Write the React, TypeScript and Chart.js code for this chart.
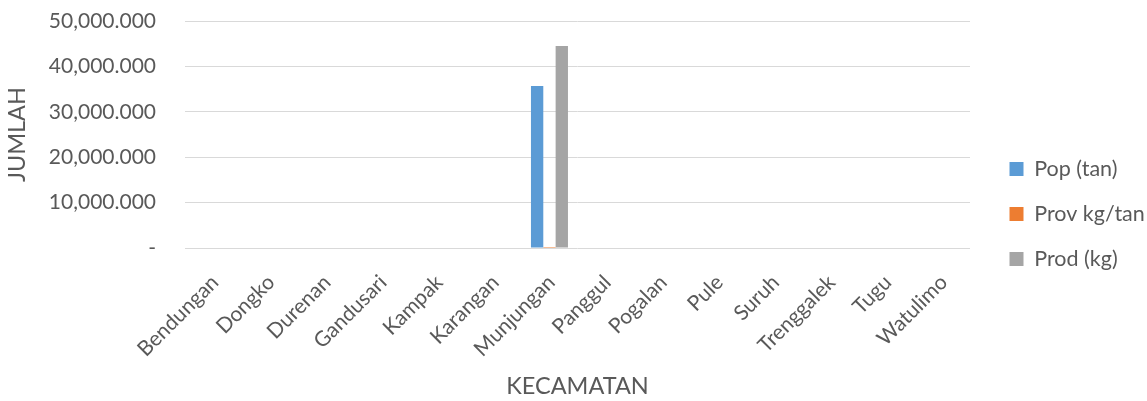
import React, { useEffect, useRef } from "react";
import { Chart, registerables } from "chart.js";

Chart.register(...registerables);

const categories = [
  "Bendungan", "Dongko", "Durenan", "Gandusari", "Kampak", "Karangan", "Munjungan",
  "Panggul", "Pogalan", "Pule", "Suruh", "Trenggalek", "Tugu", "Watulimo",
];
const popTan = [0, 0, 0, 0, 0, 0, 35700000, 0, 0, 0, 0, 0, 0, 0];
const provKgTan = [0, 0, 0, 0, 0, 0, 1.25, 0, 0, 0, 0, 0, 0, 0];
const prodKg = [0, 0, 0, 0, 0, 0, 44500000, 0, 0, 0, 0, 0, 0, 0];
const yTicks = [0, 10000000, 20000000, 30000000, 40000000, 50000000];

const TEXT = "#595959";
const FONT = "Lato";

function fmt(v: number): string {
  if (v === 0) return "-";
  const k = Math.round(v / 1000);
  return k.toLocaleString("en-US") + ".000";
}

const legendPlacer = {
  id: "legendPlacer",
  beforeLayout(chart: any) {
    const lg = chart.legend;
    if (lg && !lg._patched) {
      const orig = lg.fit;
      lg.fit = function () {
        orig.call(this);
        this.width = 177;
      };
      lg._patched = true;
    }
  },
  afterLayout(chart: any) {
    const lg = chart.legend;
    if (!lg) return;
    lg.left = 986;
    lg.right = 986 + 177;
    lg.top = 134;
    lg.bottom = 294;
  },
};

export default function App() {
  const ref = useRef<HTMLCanvasElement>(null);
  useEffect(() => {
    if (!ref.current) return;
    const chart = new Chart(ref.current, {
      type: "bar",
      data: {
        labels: categories,
        datasets: [
          { label: "Pop (tan)", data: popTan, backgroundColor: "#5b9bd5" },
          { label: "Prov kg/tan", data: provKgTan, backgroundColor: "#ed7d31" },
          { label: "Prod (kg)", data: prodKg, backgroundColor: "#a5a5a5" },
        ],
      },
      plugins: [legendPlacer],
      options: {
        animation: false,
        responsive: true,
        maintainAspectRatio: false,
        layout: { padding: { top: 21, left: 0, right: 0, bottom: 0 } },
        datasets: { bar: { categoryPercentage: 0.66, barPercentage: 1 } },
        plugins: {
          legend: {
            position: "right",
            labels: {
              color: TEXT,
              font: { family: FONT, size: 21.5 },
              boxWidth: 14,
              boxHeight: 14,
              padding: 23.5,
            },
          },
          tooltip: { enabled: false },
        },
        scales: {
          x: {
            grid: { display: false },
            border: { display: false },
            ticks: {
              color: TEXT,
              font: { family: FONT, size: 21 },
              minRotation: 45,
              maxRotation: 45,
              autoSkip: false,
              padding: 14,
              labelOffset: 2,
            },
            title: {
              display: true,
              text: "KECAMATAN",
              color: TEXT,
              font: { family: FONT, size: 23.5 },
              padding: { top: 4, bottom: 0 },
            },
            afterFit: (s: any) => {
              s.height = 153;
              s.paddingLeft = 0;
              s.paddingRight = 0;
            },
          },
          y: {
            min: 0,
            max: 50000000,
            afterBuildTicks: (s: any) => {
              s.ticks = yTicks.map((v) => ({ value: v }));
            },
            grid: { color: "#d9d9d9", lineWidth: 1, drawTicks: false },
            border: { display: false },
            ticks: {
              color: TEXT,
              font: { family: FONT, size: 21 },
              padding: 29,
              callback: (v: any) => fmt(Number(v)),
            },
            title: {
              display: true,
              text: "JUMLAH",
              color: TEXT,
              font: { family: FONT, size: 23.5 },
              padding: { top: 3, bottom: 4 },
            },
            afterFit: (s: any) => {
              s.width = 185;
              s.paddingTop = 0;
              s.paddingBottom = 0;
            },
          },
        },
      },
    });
    return () => chart.destroy();
  }, []);
  return (
    <div style={{ position: "fixed", left: 0, top: 0, width: 1147, height: 401, background: "#fff" }}>
      <canvas ref={ref} />
    </div>
  );
}
